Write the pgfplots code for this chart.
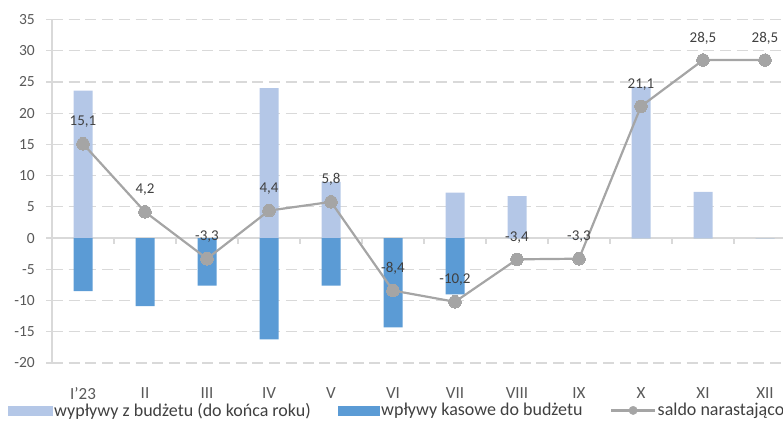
\documentclass[border=0pt]{standalone}
\usepackage{pgfplots}
\pgfplotsset{compat=1.18}
\usepackage{fontspec}
\setmainfont{Carlito}

\definecolor{barlight}{HTML}{B4C7E7}
\definecolor{bardark}{HTML}{5B9BD5}
\definecolor{saldo}{HTML}{A5A5A5}
\definecolor{gridgray}{HTML}{D9D9D9}
\definecolor{ticktext}{HTML}{595959}
\definecolor{labeltext}{HTML}{404040}

% monthly values, mld zl
% x: month index (0 = I'23 ... 11 = XII)
\pgfplotstableread{
x  wyd
0  23.6
1  0
2  0
3  24.0
4  9.0
5  0
6  7.3
7  6.7
8  0
9  24.2
10 7.4
11 0
}\wydatki

\pgfplotstableread{
x  wpl
0  -8.5
1  -10.9
2  -7.6
3  -16.2
4  -7.6
5  -14.3
6  -9.0
7  0
8  0
9  0
10 0
11 0
}\wplywy

\pgfplotstableread{
x  saldo
0  15.1
1  4.2
2  -3.3
3  4.4
4  5.8
5  -8.4
6  -10.2
7  -3.4
8  -3.3
9  21.1
10 28.5
11 28.5
}\saldo

\begin{document}
\begin{tikzpicture}[x=1pt,y=1pt]
\useasboundingbox (0,0) rectangle (783,421);
\begin{axis}[
  at={(52pt,58pt)}, anchor=south west,
  scale only axis, width=744pt, height=343.5pt,
  xmin=-0.5, xmax=11.5, ymin=-20, ymax=35,
  xtick={0,...,11},
  xticklabels={I'23,II,III,IV,V,VI,VII,VIII,IX,X,XI,XII},
  ytick={-20,-15,...,35},
  axis lines*=left,
  x axis line style={draw=none},
  y axis line style={gridgray, line width=1.2pt},
  xtick style={draw=none},
  ytick style={gridgray, line width=1.2pt},
  tick align=outside, major tick length=6pt,
  ymajorgrids,
  grid style={gridgray, line width=1.2pt, dash pattern=on 11pt off 5.7pt},
  /pgf/number format/assume math mode=true,
  yticklabel style={font=\fontsize{15.5}{18}\selectfont, text=ticktext,
    anchor=east, inner sep=0pt, xshift=-11pt},
  xticklabel style={font=\fontsize{17}{20}\selectfont, text=ticktext,
    anchor=north, inner sep=0pt, yshift=-18pt},
  legend columns=3,
  legend style={at={(-0.059,-0.138)}, anchor=west, draw=none, fill=none,
    font=\fontsize{18}{21}\selectfont, text=labeltext, inner sep=0pt,
    /tikz/every even column/.append style={column sep=26pt},
    nodes={inner sep=1.5pt}},
  clip=false,
]
% solid zero line with category boundary ticks
\draw[gridgray, line width=1.2pt] (axis cs:-0.5,0) -- (axis cs:11.5,0);
\pgfplotsinvokeforeach{0.5,1.5,...,10.5}{
  \draw[gridgray, line width=1.2pt] (axis cs:#1,0) -- ([yshift=-5.5pt]axis cs:#1,0);
}

\addplot[forget plot, ybar, bar width=19pt, bar shift=0pt, fill=barlight, draw=none]
  table[x=x, y=wyd] {\wydatki};

\addplot[forget plot, ybar, bar width=19pt, bar shift=0pt, fill=bardark, draw=none]
  table[x=x, y=wpl] {\wplywy};

\addplot[forget plot, saldo, line width=2.2pt, mark=*, mark size=6.3pt,
  mark options={fill=saldo, draw=saldo, line width=0pt},
  nodes near coords,
  every node near coord/.style={anchor=base, yshift=18pt, inner sep=0pt,
    text=labeltext, font=\fontsize{15}{18}\selectfont},
  /pgf/number format/.cd, use comma, fixed, fixed zerofill, precision=1,
  assume math mode=true]
  table[x=x, y=saldo] {\saldo};

% legend
\addlegendimage{legend image code/.code={\fill[barlight] (0pt,-4.5pt) rectangle (44pt,4.5pt);}}
\addlegendentry{wypływy z budżetu (do końca roku)}
\addlegendimage{legend image code/.code={\fill[bardark] (0pt,-4.5pt) rectangle (41pt,4.5pt);}}
\addlegendentry{wpływy kasowe do budżetu}
\addlegendimage{legend image code/.code={%
    \draw[saldo, line width=2.2pt] (0pt,0pt) -- (44pt,0pt);
    \fill[saldo] (22pt,0pt) circle[radius=4.2pt];}}
\addlegendentry{saldo narastająco}
\end{axis}
\end{tikzpicture}
\end{document}
